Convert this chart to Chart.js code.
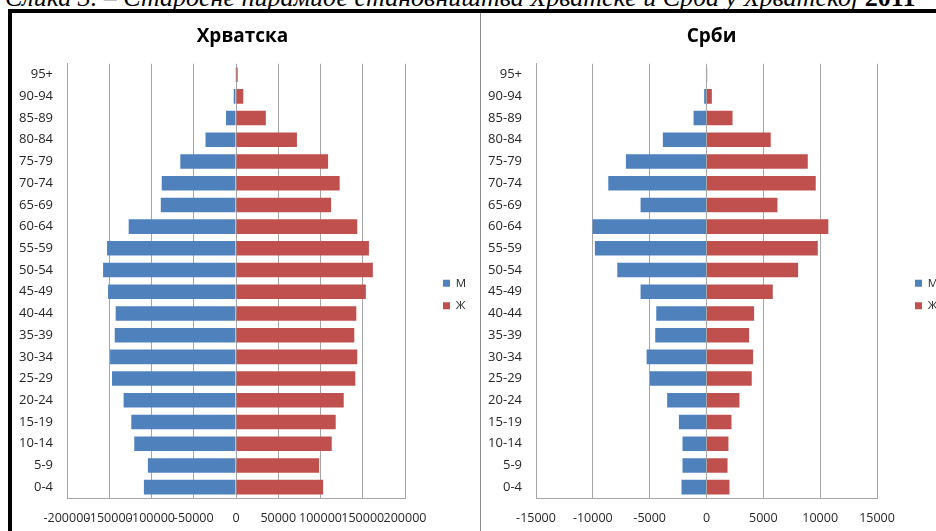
<!DOCTYPE html>
<html>
<head>
<meta charset="utf-8">
<script src="https://cdn.jsdelivr.net/npm/chart.js@4.4.1/dist/chart.umd.min.js"></script>
<style>
    html, body { margin: 0; padding: 0; background: #fff; overflow: hidden; width: 936px; height: 531px; }
    .caption {
        position: absolute; left: 5px; top: -15px; white-space: nowrap; line-height: 26px;
        font-family: "Liberation Serif", serif; font-style: italic; font-size: 26px; color: #000;
    }
    .caption b { font-style: normal; }
    .frame {
        position: absolute; left: 8px; top: 9px; width: 1000px; height: 600px;
        border-left: 4px solid #000; border-top: 4px solid #000;
    }
    .divider { position: absolute; left: 480px; top: 13px; width: 1px; height: 600px; background: #8c8c8c; }
    .panel { position: absolute; top: 13px; }
    #leftPanel { left: 12px; }
    #rightPanel { left: 481px; }
</style>
</head>
<body>
<div class="caption">Слика 3. – Старосне пирамиде становништва Хрватске и Срба у Хрватској <b>2011</b></div>
<div class="frame"></div>
<div class="divider"></div>
<div class="panel" id="leftPanel"><canvas id="croatiaChart" width="468" height="525"></canvas></div>
<div class="panel" id="rightPanel"><canvas id="serbsChart" width="468" height="525"></canvas></div>
<script>
    // Age groups, top to bottom
    const ageGroups = ['95+', '90-94', '85-89', '80-84', '75-79', '70-74', '65-69', '60-64', '55-59', '50-54',
        '45-49', '40-44', '35-39', '30-34', '25-29', '20-24', '15-19', '10-14', '5-9', '0-4'];

    // Хрватска (males negative)
    const croatiaMale = [-300, -2700, -11800, -36100, -65900, -87900, -89000, -127000, -152600, -157300,
        -151400, -142400, -143500, -149000, -146700, -133000, -123900, -120400, -104300, -109000];
    const croatiaFemale = [2000, 8600, 35300, 72100, 109000, 122700, 112500, 143500, 157300, 162000,
        153700, 142400, 140000, 143500, 141200, 127500, 118000, 113300, 98400, 103100];

    // Срби (males negative)
    const serbsMale = [-50, -205, -1140, -3840, -7090, -8640, -5800, -10020, -9820, -7850,
        -5800, -4420, -4510, -5270, -4980, -3460, -2430, -2110, -2110, -2200];
    const serbsFemale = [60, 470, 2290, 5650, 8910, 9610, 6240, 10720, 9790, 8060,
        5830, 4190, 3750, 4100, 3980, 2900, 2200, 1930, 1850, 2020];

    const croatiaTicks = { min: -200000, max: 200000, step: 50000 };
    const serbsTicks = { min: -15000, max: 15000, step: 5000 };

    const seriesNames = ['М', 'Ж'];
    const maleColor = '#4F81BD';
    const femaleColor = '#C0504D';
    const gridColor = '#a6a6a6';
    const textColor = '#262626';
    const fontFamily = '"Open Sans", "Liberation Sans", sans-serif';

    // legend sits right next to the plot by default; move it a bit away like in Excel
    const legendNudge = {
        id: 'legendNudge',
        afterLayout(chart, args, opts) {
            const lg = chart.legend;
            if (!lg) return;
            lg.left += opts.x; lg.right += opts.x;
            lg.top += opts.y; lg.bottom += opts.y;
        }
    };

    // rightGap: room kept between plot area and canvas edge (legend sits inside it)
    function makePyramid(ctx, title, male, female, range, rightGap) {
        return new Chart(ctx, {
            type: 'bar',
            data: {
                labels: ageGroups,
                datasets: [
                    { label: seriesNames[0], data: male, backgroundColor: maleColor },
                    { label: seriesNames[1], data: female, backgroundColor: femaleColor }
                ]
            },
            plugins: [legendNudge],
            options: {
                indexAxis: 'y',
                responsive: false,
                animation: false,
                devicePixelRatio: 1,
                barPercentage: 0.67,
                categoryPercentage: 1,
                layout: { padding: { left: 7, right: 14, bottom: 12 } },
                plugins: {
                    title: {
                        display: true, text: title, color: '#000',
                        font: { family: fontFamily, size: 19, weight: 'bold' },
                        padding: { top: 12, bottom: 16 }
                    },
                    legend: {
                        position: 'right',
                        labels: {
                            boxWidth: 7, boxHeight: 7, padding: 11, color: textColor,
                            font: { family: fontFamily, size: 11.5 }
                        }
                    },
                    legendNudge: { x: 27, y: 25 },
                    tooltip: { enabled: false }
                },
                scales: {
                    x: {
                        stacked: true,
                        min: range.min, max: range.max,
                        afterFit: s => { s.height = 28; s.paddingLeft = 0; s.paddingRight = rightGap; },
                        ticks: {
                            stepSize: range.step, autoSkip: false, maxRotation: 0, padding: 13,
                            color: textColor, font: { family: fontFamily, size: 12.5 },
                            callback: v => String(v)
                        },
                        grid: { color: gridColor, drawTicks: false },
                        border: { color: gridColor }
                    },
                    y: {
                        stacked: true,
                        afterFit: s => { s.width = 48; s.paddingTop = 0; s.paddingBottom = 0; },
                        ticks: { padding: 14, color: textColor, font: { family: fontFamily, size: 13 } },
                        grid: { display: false, drawTicks: false },
                        border: { color: gridColor }
                    }
                }
            }
        });
    }

    makePyramid(document.getElementById('croatiaChart'), 'Хрватска', croatiaMale, croatiaFemale, croatiaTicks, 75);
    makePyramid(document.getElementById('serbsChart'), 'Срби', serbsMale, serbsFemale, serbsTicks, 72);
</script>
</body>
</html>
